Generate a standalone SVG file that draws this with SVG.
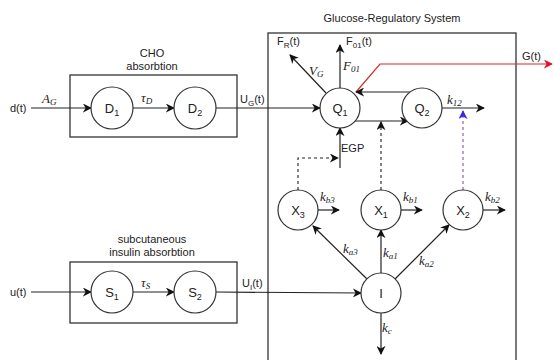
<svg xmlns="http://www.w3.org/2000/svg" width="554" height="360" viewBox="0 0 554 360">
<style>
.ln{fill:none;stroke:#222;stroke-width:1.2}
.bx{fill:none;stroke:#333;stroke-width:1.3}
.nd{fill:#fff;stroke:#333;stroke-width:1.2}
.t{font-family:"Liberation Sans",Arial,sans-serif;font-size:11px;fill:#222}
.nt{font-family:"Liberation Sans",Arial,sans-serif;font-size:13px;fill:#222;text-anchor:middle}
.m{font-family:"Liberation Serif","Times New Roman",serif;font-style:italic;font-size:13px;fill:#222}
.d{fill:none;stroke:#222;stroke-width:1.1;stroke-dasharray:3 3}
</style>
<defs>
<marker id="a" viewBox="0 0 10 10" refX="9" refY="5" markerWidth="9" markerHeight="9" markerUnits="userSpaceOnUse" orient="auto"><path d="M0,0 L10,5 L0,10 L3,5 z" fill="#111"/></marker>
<marker id="ar" viewBox="0 0 10 10" refX="9" refY="5" markerWidth="9" markerHeight="9" markerUnits="userSpaceOnUse" orient="auto"><path d="M0,0 L10,5 L0,10 L3,5 z" fill="#e0141e"/></marker>
<marker id="ap" viewBox="0 0 10 10" refX="9" refY="5" markerWidth="9" markerHeight="9" markerUnits="userSpaceOnUse" orient="auto"><path d="M0,0 L10,5 L0,10 L3,5 z" fill="#3a2ad6"/></marker>
</defs>

<g id="boxes">
<rect class="bx" x="70" y="75" width="167" height="62"/>
<rect class="bx" x="70" y="262" width="167" height="61"/>
<rect class="bx" x="268" y="33" width="248" height="335"/>
<text class="t" x="152" y="57" text-anchor="middle">CHO</text>
<text class="t" x="152" y="70" text-anchor="middle">absorbtion</text>
<text class="t" x="152" y="243" text-anchor="middle">subcutaneous</text>
<text class="t" x="152" y="256" text-anchor="middle">insulin absorbtion</text>
<text class="t" x="392" y="22" text-anchor="middle">Glucose-Regulatory System</text>
</g>

<g id="connectors">
<line class="ln" x1="31" y1="108" x2="91" y2="108" marker-end="url(#a)"/>
<line class="ln" x1="133" y1="108" x2="174" y2="108" marker-end="url(#a)"/>
<line class="ln" x1="216" y1="108" x2="320" y2="108" marker-end="url(#a)"/>
<line class="ln" x1="31" y1="292" x2="91" y2="292" marker-end="url(#a)"/>
<line class="ln" x1="133" y1="292" x2="174" y2="292" marker-end="url(#a)"/>
<line class="ln" x1="216" y1="292" x2="361" y2="293" marker-end="url(#a)"/>
<line class="ln" x1="340" y1="88" x2="340" y2="45" marker-end="url(#a)"/>
<line class="ln" x1="326" y1="93" x2="290" y2="55" marker-end="url(#a)"/>
<polyline points="356,92 380,64 552,64" fill="none" stroke="#d42a2a" stroke-width="1.2" marker-end="url(#ar)"/>
<line class="ln" x1="411" y1="92" x2="356" y2="92" marker-end="url(#a)"/>
<line class="ln" x1="355" y1="121" x2="408" y2="121" marker-end="url(#a)"/>
<line class="ln" x1="442" y1="108" x2="484" y2="108" marker-end="url(#a)"/>
<line class="ln" x1="340" y1="168" x2="340" y2="128" marker-end="url(#a)"/>
<polyline class="d" points="298,190 298,158 338,158" marker-end="url(#a)"/>
<line class="d" x1="381" y1="190" x2="381" y2="122" marker-end="url(#a)"/>
<line x1="463" y1="190" x2="463" y2="111" stroke="#8a62c8" stroke-width="1.2" stroke-dasharray="3 3" marker-end="url(#ap)"/>
<line class="ln" x1="318" y1="210" x2="339" y2="210" marker-end="url(#a)"/>
<line class="ln" x1="401" y1="210" x2="422" y2="210" marker-end="url(#a)"/>
<line class="ln" x1="483" y1="210" x2="505" y2="210" marker-end="url(#a)"/>
<line class="ln" x1="367" y1="279" x2="313" y2="226" marker-end="url(#a)"/>
<line class="ln" x1="381" y1="273" x2="381" y2="230" marker-end="url(#a)"/>
<line class="ln" x1="395" y1="279" x2="449" y2="225" marker-end="url(#a)"/>
<line class="ln" x1="381" y1="313" x2="381" y2="354" marker-end="url(#a)"/>
</g>

<g id="labels">
<text class="t" x="10" y="112">d(t)</text>
<text class="t" x="10" y="296">u(t)</text>
<text class="m" x="42" y="103">A<tspan font-size="9" dy="2">G</tspan></text>
<text class="m" x="141" y="102">τ<tspan font-size="9" dy="2">D</tspan></text>
<text class="m" x="141" y="287">τ<tspan font-size="9" dy="2">S</tspan></text>
<text class="t" x="240" y="103">U<tspan font-size="8" dy="3">G</tspan><tspan dy="-3">(t)</tspan></text>
<text class="t" x="242" y="287">U<tspan font-size="8" dy="3">I</tspan><tspan dy="-3">(t)</tspan></text>
<text class="t" x="277" y="45">F<tspan font-size="8" dy="3">R</tspan><tspan dy="-3">(t)</tspan></text>
<text class="t" x="346" y="45">F<tspan font-size="8" dy="3">01</tspan><tspan dy="-3">(t)</tspan></text>
<text class="m" x="309" y="75">V<tspan font-size="9" dy="2">G</tspan></text>
<text class="m" x="343" y="70">F<tspan font-size="9" dy="2">01</tspan></text>
<text class="t" x="522" y="60">G(t)</text>
<text class="t" x="341" y="152">EGP</text>
<text class="m" x="447" y="104">k<tspan font-size="9" dy="2">12</tspan></text>
<text class="m" x="320" y="201">k<tspan font-size="9" dy="2">b3</tspan></text>
<text class="m" x="403" y="201">k<tspan font-size="9" dy="2">b1</tspan></text>
<text class="m" x="485" y="201">k<tspan font-size="9" dy="2">b2</tspan></text>
<text class="m" x="343" y="253">k<tspan font-size="9" dy="2">a3</tspan></text>
<text class="m" x="383" y="257">k<tspan font-size="9" dy="2">a1</tspan></text>
<text class="m" x="419" y="265">k<tspan font-size="9" dy="2">a2</tspan></text>
<text class="m" x="382" y="332">k<tspan font-size="9" dy="2">c</tspan></text>
</g>

<g id="D1"><circle class="nd" cx="112" cy="108" r="21"/><text class="nt" x="112" y="113">D<tspan font-size="9" dy="3">1</tspan></text></g>
<g id="D2"><circle class="nd" cx="195" cy="108" r="21"/><text class="nt" x="195" y="113">D<tspan font-size="9" dy="3">2</tspan></text></g>
<g id="S1"><circle class="nd" cx="112" cy="292" r="21"/><text class="nt" x="112" y="297">S<tspan font-size="9" dy="3">1</tspan></text></g>
<g id="S2"><circle class="nd" cx="195" cy="292" r="21"/><text class="nt" x="195" y="297">S<tspan font-size="9" dy="3">2</tspan></text></g>
<g id="Q1"><circle class="nd" cx="340" cy="108" r="20"/><text class="nt" x="340" y="113">Q<tspan font-size="9" dy="3">1</tspan></text></g>
<g id="Q2"><circle class="nd" cx="422" cy="108" r="20"/><text class="nt" x="422" y="113">Q<tspan font-size="9" dy="3">2</tspan></text></g>
<g id="X3"><circle class="nd" cx="298" cy="210" r="20"/><text class="nt" x="298" y="215">X<tspan font-size="9" dy="3">3</tspan></text></g>
<g id="X1"><circle class="nd" cx="381" cy="210" r="20"/><text class="nt" x="381" y="215">X<tspan font-size="9" dy="3">1</tspan></text></g>
<g id="X2"><circle class="nd" cx="463" cy="210" r="20"/><text class="nt" x="463" y="215">X<tspan font-size="9" dy="3">2</tspan></text></g>
<g id="I"><circle class="nd" cx="381" cy="293" r="20"/><text class="nt" x="381" y="298">I</text></g>
</svg>
